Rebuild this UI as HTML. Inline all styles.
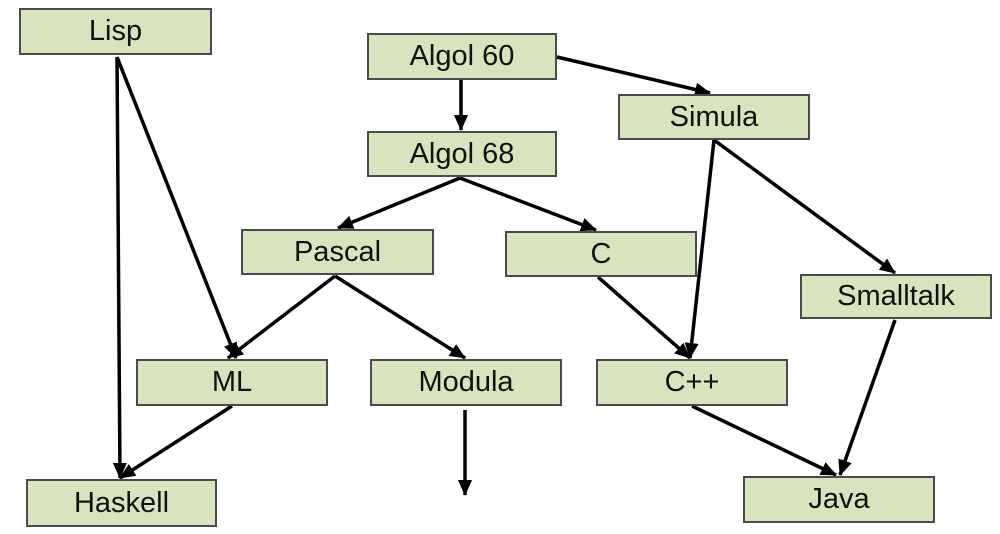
<!DOCTYPE html>
<html><head><style>
body{margin:0;width:1000px;height:534px;background:#fff;position:relative;overflow:hidden;font-family:"Liberation Sans",Arial,sans-serif}
.b{position:absolute;background:#d7e4bd;border:2px solid #4a4a4a;box-sizing:border-box;display:flex;align-items:center;justify-content:center;font-size:29px;color:#111}
svg{position:absolute;left:0;top:0}
</style></head><body>
<svg width="1000" height="534">
<defs>
<marker id="h" markerWidth="16" markerHeight="14" refX="15" refY="7" orient="auto" markerUnits="userSpaceOnUse"><path d="M0,0 L16,7 L0,14 z" fill="#000"/></marker></defs>
<g stroke="#000" stroke-width="3.5" fill="none" marker-end="url(#h)">
<line x1="117" y1="57" x2="120" y2="478"/>
<line x1="117" y1="57" x2="236" y2="358"/>
<line x1="461" y1="80" x2="461" y2="130"/>
<line x1="557" y1="57" x2="710" y2="93"/>
<line x1="460" y1="178" x2="338" y2="228"/>
<line x1="460" y1="178" x2="596" y2="230"/>
<line x1="714" y1="140" x2="690" y2="358"/>
<line x1="714" y1="140" x2="895" y2="273"/>
<line x1="335" y1="276" x2="228" y2="358"/>
<line x1="335" y1="276" x2="465" y2="358"/>
<line x1="598" y1="277" x2="690" y2="358"/>
<line x1="895" y1="320" x2="840" y2="475"/>
<line x1="692" y1="406" x2="836" y2="475"/>
<line x1="232" y1="406" x2="120" y2="478"/>
<line x1="465" y1="410" x2="465" y2="495"/>
</g></svg>
<div class="b" style="left:19px;top:8px;width:193px;height:47px">Lisp</div>
<div class="b" style="left:367px;top:33px;width:190px;height:47px">Algol 60</div>
<div class="b" style="left:618px;top:94px;width:192px;height:46px">Simula</div>
<div class="b" style="left:367px;top:131px;width:190px;height:46px">Algol 68</div>
<div class="b" style="left:241px;top:229px;width:193px;height:46px">Pascal</div>
<div class="b" style="left:505px;top:231px;width:192px;height:46px">C</div>
<div class="b" style="left:800px;top:274px;width:192px;height:45px">Smalltalk</div>
<div class="b" style="left:136px;top:359px;width:192px;height:47px">ML</div>
<div class="b" style="left:370px;top:359px;width:192px;height:47px">Modula</div>
<div class="b" style="left:596px;top:359px;width:192px;height:47px">C++</div>
<div class="b" style="left:26px;top:479px;width:191px;height:48px">Haskell</div>
<div class="b" style="left:743px;top:476px;width:192px;height:47px">Java</div>
</body></html>
